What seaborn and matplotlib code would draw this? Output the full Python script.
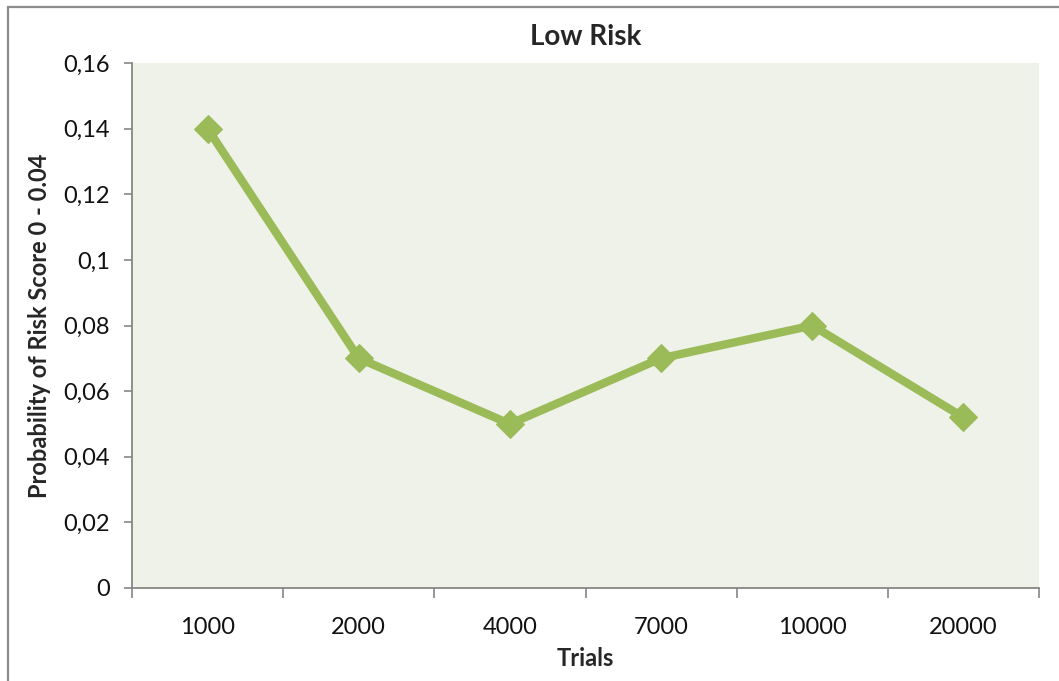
import matplotlib
matplotlib.use("Agg")
import matplotlib.pyplot as plt
import matplotlib.patches as mpatches
import seaborn as sns
import pandas as pd

# Chart data
trials = ["1000", "2000", "4000", "7000", "10000", "20000"]
probability = [0.14, 0.07, 0.05, 0.07, 0.08, 0.052]
ytick_values = [0, 0.02, 0.04, 0.06, 0.08, 0.10, 0.12, 0.14, 0.16]
ytick_labels = ["0", "0,02", "0,04", "0,06", "0,08", "0,1", "0,12", "0,14", "0,16"]

sns.set_style("white")
plt.rcParams["font.family"] = ["Lato", "DejaVu Sans"]

df = pd.DataFrame({"Trials": trials, "Probability": probability})

W, H = 1059, 681
fig = plt.figure(figsize=(W / 100, H / 100), dpi=100)
fig.patch.set_facecolor("white")
ax = fig.add_axes([132 / W, 1 - 588 / H, (1039 - 132) / W, (588 - 63) / H])
ax.set_facecolor("#EEF2E8")

line_color = "#9BBB59"
sns.lineplot(data=df, x="Trials", y="Probability", sort=False, ax=ax,
             color=line_color, linewidth=6, marker="D", markersize=14,
             markeredgecolor=line_color, markerfacecolor=line_color)

ax.set_xlim(-0.5, len(trials) - 0.5)
ax.set_ylim(0, 0.16)
ax.set_yticks(ytick_values)
ax.set_yticklabels(ytick_labels)
ax.set_xticks(range(len(trials)))
ax.set_xticklabels(trials)
ax.set_xticks([i - 0.5 for i in range(len(trials) + 1)], minor=True)

spine_color = "#868686"
for side in ["top", "right"]:
    ax.spines[side].set_visible(False)
for side in ["left", "bottom"]:
    ax.spines[side].set_color(spine_color)
    ax.spines[side].set_linewidth(1.3)

ax.tick_params(axis="y", which="major", direction="out", length=6, width=1.2,
               color=spine_color, pad=10, labelsize=17, labelcolor="#111111", left=True)
ax.tick_params(axis="x", which="major", length=0, pad=21, labelsize=17,
               labelcolor="#111111")
ax.tick_params(axis="x", which="minor", direction="out", length=7, width=1.2,
               color=spine_color, bottom=True)

ax.set_title("Low Risk", fontsize=20, fontweight="bold", pad=13)
ax.set_xlabel("Trials", fontsize=17, fontweight="bold", labelpad=6)
ax.set_ylabel("Probability of Risk Score 0 - 0.04", fontsize=17, fontweight="bold",
              labelpad=9)
ax.grid(False)

# Chart frame
frame = mpatches.Rectangle((7.5 / W, -0.05), 1.1, 1.05 - 7.5 / H,
                           transform=fig.transFigure, fill=False,
                           edgecolor="#8C8C8C", linewidth=1.6, clip_on=False)
fig.patches.append(frame)

fig.savefig("out.png", dpi=100)
